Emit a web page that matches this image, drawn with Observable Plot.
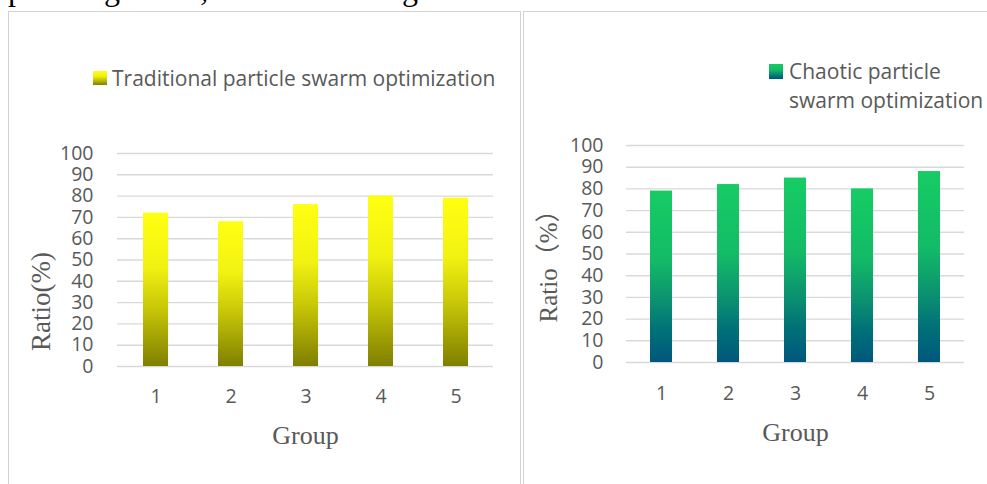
<!DOCTYPE html>
<html>
<head>
<meta charset="utf-8">
<script src="https://cdn.jsdelivr.net/npm/d3@7"></script>
<script src="https://cdn.jsdelivr.net/npm/@observablehq/plot@0.6"></script>
<style>
  body { margin: 0; background: #fff; }
  #page { position: relative; width: 987px; height: 484px; overflow: hidden; background: #fff; }
  .panel { position: absolute; top: 11px; height: 520px; border: 1px solid #d2d2d2; box-sizing: border-box; }
  .caption { position: absolute; left: 8px; top: -27px; font-family: "Liberation Serif", serif; font-size: 32px; line-height: 32px; color: #000; white-space: nowrap; }
  .chart { position: absolute; top: 0; }
  .legend { position: absolute; font-family: "Open Sans", sans-serif; font-size: 21px; color: #595959; white-space: nowrap; }
  .swatch { position: absolute; width: 14px; height: 14px; }
</style>
</head>
<body>
<div id="page">
  <div class="caption">planning effect, as shown in Figure 4.</div>
  <div class="panel" style="left:8px;width:513px"></div>
  <div class="panel" style="left:523px;width:490px"></div>
  <div class="chart" id="c1" style="left:0"></div>
  <div class="chart" id="c2" style="left:520px"></div>
  <div class="swatch" style="left:93px;top:71px;background:linear-gradient(#ffff12,#f2f212 35%,#c8c808 62%,#7f7f00)"></div>
  <div class="legend" id="leg1" style="left:112px;top:63px;line-height:30px"></div>
  <div class="swatch" style="left:769px;top:64px;height:15px;background:linear-gradient(#16cc64,#13bb67 40%,#0b9070 65%,#007078 82%,#00577c)"></div>
  <div class="legend" id="leg2" style="left:789px;top:56.5px;line-height:29px"></div>
</div>
<script>
const groups = ["1", "2", "3", "4", "5"];
const traditional = [72, 68, 76, 80, 79];
const chaotic = [79, 82, 85, 80, 88];
const yTicks = [0, 10, 20, 30, 40, 50, 60, 70, 80, 90, 100];
const seriesNames = ["Traditional particle swarm optimization", "Chaotic particle\nswarm optimization"];
const yTitles = ["Ratio(%)", "Ratio（%）"];
const xTitle = "Group";

document.getElementById("leg1").textContent = seriesNames[0];
document.getElementById("leg2").innerHTML = seriesNames[1].split("\n").join("<br>");

const yellowStops = [[0, "#ffff12"], [0.35, "#f2f212"], [0.62, "#c8c808"], [1, "#7f7f00"]];
const greenStops = [[0, "#16cc64"], [0.4, "#13bb67"], [0.65, "#0b9070"], [0.82, "#007078"], [1, "#00577c"]];
const serif = "'Liberation Serif', 'Noto Sans CJK SC', serif";

function makeChart(o) {
  const data = groups.map((g, i) => ({group: g, value: o.values[i]}));
  const svg = Plot.plot({
    width: o.width,
    height: 484,
    marginLeft: o.ml, marginRight: o.mr, marginTop: o.mt, marginBottom: o.mb,
    style: {background: "transparent", fontFamily: "Open Sans", color: "#595959", overflow: "visible"},
    x: {domain: groups, paddingInner: o.pi, paddingOuter: o.po, axis: null},
    y: {domain: [0, 100], axis: null},
    marks: [
      Plot.gridY(yTicks, {stroke: "#d9d9d9", strokeOpacity: 1, strokeWidth: 1.4}),
      Plot.barY(data, {x: "group", y: "value", fill: `url(#${o.gradId})`}),
      Plot.axisY(yTicks, {tickSize: 0, tickPadding: o.ytp, fontSize: 19.5, fill: "#595959", label: null}),
      Plot.axisX({tickSize: 0, tickPadding: o.xtp, fontSize: 19.5, fill: "#595959", label: null}),
      Plot.text([o.ytitle], {frameAnchor: "left", textAnchor: "middle", lineAnchor: "middle", dx: o.ydx, dy: o.ydy, rotate: -90, fontSize: o.yfs, fontFamily: serif, fill: "#595959"}),
      Plot.text([xTitle], {frameAnchor: "bottom", textAnchor: "middle", lineAnchor: "middle", dy: o.xdy, fontSize: 26, fontFamily: serif, fill: "#595959"})
    ]
  });
  const defs = d3.select(svg).insert("defs", ":first-child");
  const lg = defs.append("linearGradient").attr("id", o.gradId).attr("x1", 0).attr("y1", 0).attr("x2", 0).attr("y2", 1);
  o.stops.forEach(([off, c]) => lg.append("stop").attr("offset", off).attr("stop-color", c));
  return svg;
}

document.getElementById("c1").appendChild(makeChart({
  values: traditional, gradId: "gradYellow", stops: yellowStops,
  width: 520, ml: 117, mr: 27, mt: 153, mb: 118, pi: 0.667, po: 0.333,
  ytp: 24, xtp: 23, ytitle: yTitles[0], yfs: 27, ydx: -76, ydy: 41.5, xdy: 69.5
}));
document.getElementById("c2").appendChild(makeChart({
  values: chaotic, gradId: "gradGreen", stops: greenStops,
  width: 467, ml: 106, mr: 23, mt: 145, mb: 122, pi: 0.672, po: 0.34,
  ytp: 23, xtp: 24, ytitle: yTitles[1], yfs: 25, ydx: -78, ydy: 6, xdy: 70.5
}));
</script>
</body>
</html>
